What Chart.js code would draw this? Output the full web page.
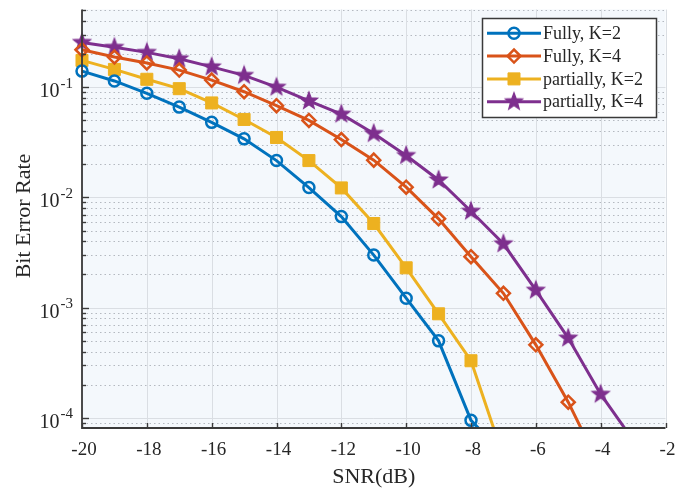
<!DOCTYPE html>
<html>
<head>
<meta charset="utf-8">
<title>BER vs SNR</title>
<script src="https://cdn.jsdelivr.net/npm/chart.js"></script>
<style>
  html, body { margin: 0; padding: 0; background: #fff; }
  #ber { display: block; }
</style>
</head>
<body>
<canvas id="ber" width="675" height="490"></canvas>
<script>
// ── Data ────────────────────────────────────────────────
const snr = [-20, -19, -18, -17, -16, -15, -14, -13, -12, -11, -10, -9, -8, -7, -6, -5, -4, -3];

const fullyK2 = [0.14, 0.114, 0.088, 0.066, 0.048, 0.034, 0.0216, 0.0123, 0.0067, 0.003,
                 0.00122, 5.0e-4, 9.5e-5, 4.7e-5];
const fullyK4 = [0.219, 0.188, 0.166, 0.143, 0.116, 0.091, 0.068, 0.05, 0.0335, 0.0218,
                 0.0124, 0.0064, 0.0029, 0.00135, 4.6e-4, 1.39e-4, 3.5e-5];
const partK2  = [0.175, 0.145, 0.118, 0.097, 0.072, 0.051, 0.035, 0.0216, 0.0122, 0.0058,
                 0.0023, 8.8e-4, 3.3e-4, 4.4e-5];
const partK4  = [0.255, 0.23, 0.207, 0.181, 0.153, 0.128, 0.1, 0.075, 0.057, 0.038,
                 0.024, 0.0144, 0.0075, 0.0038, 0.00144, 5.3e-4, 1.64e-4, 6.3e-5];

const seriesNames = ['Fully, K=2', 'Fully, K=4', 'partially, K=2', 'partially, K=4'];

const xTicks = [-20, -18, -16, -14, -12, -10, -8, -6, -4, -2];
const yExponents = [-4, -3, -2, -1];
const yMinorSteps = [2, 3, 4, 5, 6, 7, 8, 9];

const X_MIN = -20, X_MAX = -2;
const Y_MIN = 8.1e-5, Y_MAX = 0.507;

// ── Styles ──────────────────────────────────────────────
const BLUE = '#0072BD', RED = '#D95319', YELLOW = '#EDB120', PURPLE = '#7E2F8E';
const SERIF = "'Liberation Serif', 'Times New Roman', serif";
const INK = '#262626';

// filled pentagram used as a marker image
function pentagram(color, R) {
  const c = document.createElement('canvas');
  const s = Math.ceil(R * 2 + 4);
  c.width = c.height = s;
  const g = c.getContext('2d');
  const r = R * 0.42;
  g.beginPath();
  for (let i = 0; i < 10; i++) {
    const rad = i % 2 ? r : R;
    const a = -Math.PI / 2 + i * Math.PI / 5;
    const px = s / 2 + rad * Math.cos(a), py = s / 2 + rad * Math.sin(a);
    i ? g.lineTo(px, py) : g.moveTo(px, py);
  }
  g.closePath();
  g.fillStyle = color;
  g.strokeStyle = color;
  g.lineWidth = 1.2;
  g.fill();
  g.stroke();
  return c;
}
const starImg = pentagram(PURPLE, 9);

const pairs = ys => ys.map((y, i) => ({ x: snr[i], y }));

const series = [
  { data: fullyK2, color: BLUE,   style: 'circle',  radius: 5.5, fill: 'rgba(0,0,0,0)', bw: 2.5 },
  { data: fullyK4, color: RED,    style: 'rectRot', radius: 6.5, fill: 'rgba(0,0,0,0)', bw: 2.5 },
  { data: partK2,  color: YELLOW, style: 'rect',    radius: 8.5, fill: YELLOW,          bw: 1 },
  { data: partK4,  color: PURPLE, style: starImg,   radius: 9,   fill: PURPLE,          bw: 0 },
];

// ── Axes, grid, labels and legend drawn the MATLAB way ──
const matlabAxes = {
  id: 'matlabAxes',
  beforeDraw(chart) {
    const { ctx, chartArea: a } = chart;
    ctx.save();
    ctx.fillStyle = '#fff';
    ctx.fillRect(0, 0, chart.width, chart.height);
    ctx.fillStyle = '#f4f8fc';
    ctx.fillRect(a.left, a.top, a.right - a.left, a.bottom - a.top);
    ctx.restore();
  },
  beforeDatasetsDraw(chart) {
    const { ctx, chartArea: a, scales: { x, y } } = chart;
    ctx.save();
    ctx.lineWidth = 1;

    // minor horizontal grid (dotted)
    ctx.strokeStyle = '#b4b9c0';
    ctx.setLineDash([1.5, 3]);
    for (let e = -5; e <= 0; e++) {
      yMinorSteps.forEach(m => {
        const v = m * Math.pow(10, e);
        if (v < Y_MIN || v > Y_MAX) return;
        const py = Math.round(y.getPixelForValue(v)) + 0.5;
        ctx.beginPath(); ctx.moveTo(a.left, py); ctx.lineTo(a.right, py); ctx.stroke();
      });
    }

    // major grid (solid)
    ctx.setLineDash([]);
    ctx.strokeStyle = '#dadee3';
    yExponents.forEach(e => {
      const py = Math.round(y.getPixelForValue(Math.pow(10, e))) + 0.5;
      ctx.beginPath(); ctx.moveTo(a.left, py); ctx.lineTo(a.right, py); ctx.stroke();
    });
    xTicks.forEach(t => {
      const px = Math.round(x.getPixelForValue(t)) + 0.5;
      ctx.beginPath(); ctx.moveTo(px, a.top); ctx.lineTo(px, a.bottom); ctx.stroke();
    });
    ctx.restore();
  },
  afterDraw(chart) {
    const { ctx, chartArea: a, scales: { x, y } } = chart;
    ctx.save();

    // axis lines
    ctx.strokeStyle = '#3a3a3a';
    ctx.lineWidth = 1.8;
    ctx.beginPath();
    ctx.moveTo(a.left, a.top);
    ctx.lineTo(a.left, a.bottom);
    ctx.lineTo(a.right, a.bottom);
    ctx.stroke();

    // inward ticks
    ctx.lineWidth = 1.4;
    for (let e = -5; e <= 0; e++) {
      yMinorSteps.forEach(m => {
        const v = m * Math.pow(10, e);
        if (v < Y_MIN || v > Y_MAX) return;
        const py = Math.round(y.getPixelForValue(v)) + 0.5;
        ctx.beginPath(); ctx.moveTo(a.left, py); ctx.lineTo(a.left + 4, py); ctx.stroke();
      });
    }
    yExponents.forEach(e => {
      const py = Math.round(y.getPixelForValue(Math.pow(10, e))) + 0.5;
      ctx.beginPath(); ctx.moveTo(a.left, py); ctx.lineTo(a.left + 7, py); ctx.stroke();
    });
    xTicks.forEach(t => {
      const px = Math.round(x.getPixelForValue(t)) + 0.5;
      ctx.beginPath(); ctx.moveTo(px, a.bottom); ctx.lineTo(px, a.bottom - 5); ctx.stroke();
    });

    // tick labels
    ctx.fillStyle = INK;
    ctx.textBaseline = 'alphabetic';
    ctx.textAlign = 'center';
    ctx.font = '19px ' + SERIF;
    xTicks.forEach(t => ctx.fillText(String(t), x.getPixelForValue(t) + 2, a.bottom + 27));

    yExponents.forEach(e => {
      const py = y.getPixelForValue(Math.pow(10, e));
      const sup = String(e);
      ctx.textAlign = 'right';
      ctx.font = '15px ' + SERIF;
      const supW = ctx.measureText(sup).width;
      ctx.fillText(sup, a.left - 9, py + 0.5);
      ctx.font = '20px ' + SERIF;
      ctx.fillText('10', a.left - 9 - supW - 1, py + 10);
    });

    // axis titles
    ctx.font = '22px ' + SERIF;
    ctx.textAlign = 'center';
    ctx.fillText('SNR(dB)', (a.left + a.right) / 2, a.bottom + 55);
    ctx.save();
    ctx.translate(30, 216);
    ctx.rotate(-Math.PI / 2);
    ctx.fillText('Bit Error Rate', 0, 0);
    ctx.restore();

    // legend
    const L = { x: 482, y: 18, w: 174, h: 99, row: 22.8 };
    ctx.fillStyle = '#fff';
    ctx.fillRect(L.x, L.y, L.w, L.h);
    ctx.strokeStyle = '#3a3a3a';
    ctx.lineWidth = 1.5;
    ctx.strokeRect(L.x + 0.5, L.y + 0.5, L.w, L.h);
    chart.data.datasets.forEach((ds, i) => {
      const ry = L.y + 15.3 + i * L.row;
      ctx.strokeStyle = ds.borderColor;
      ctx.lineWidth = 3;
      ctx.beginPath(); ctx.moveTo(L.x + 5, ry); ctx.lineTo(L.x + 59, ry); ctx.stroke();
      ctx.fillStyle = ds.pointBackgroundColor;
      ctx.strokeStyle = ds.pointBorderColor;
      ctx.lineWidth = ds.pointBorderWidth;
      Chart.helpers.drawPoint(ctx, {
        pointStyle: ds.pointStyle, rotation: 0,
        radius: ds.pointRadius, borderWidth: ds.pointBorderWidth
      }, L.x + 32, ry);
      ctx.fillStyle = INK;
      ctx.font = '18px ' + SERIF;
      ctx.textAlign = 'left';
      ctx.textBaseline = 'middle';
      ctx.fillText(ds.label, L.x + 61, ry + 1);
    });
    ctx.restore();
  }
};

new Chart(document.getElementById('ber'), {
  type: 'line',
  data: {
    datasets: series.map((s, i) => ({
      label: seriesNames[i],
      data: pairs(s.data),
      borderColor: s.color,
      borderWidth: 3,
      pointStyle: s.style,
      pointRadius: s.radius,
      pointBorderWidth: s.bw,
      pointBorderColor: s.color,
      pointBackgroundColor: s.fill,
      tension: 0,
      clip: { left: 12, top: 12, right: 12, bottom: 0 },
    }))
  },
  options: {
    responsive: false,
    animation: false,
    devicePixelRatio: 1,
    layout: { padding: { left: 82, right: 5, top: 4, bottom: 62 } },
    plugins: { legend: { display: false }, tooltip: { enabled: false } },
    scales: {
      x: { type: 'linear', min: X_MIN, max: X_MAX, display: false, bounds: 'data' },
      y: { type: 'logarithmic', min: Y_MIN, max: Y_MAX, display: false, bounds: 'data' }
    }
  },
  plugins: [matlabAxes]
});
</script>
</body>
</html>
